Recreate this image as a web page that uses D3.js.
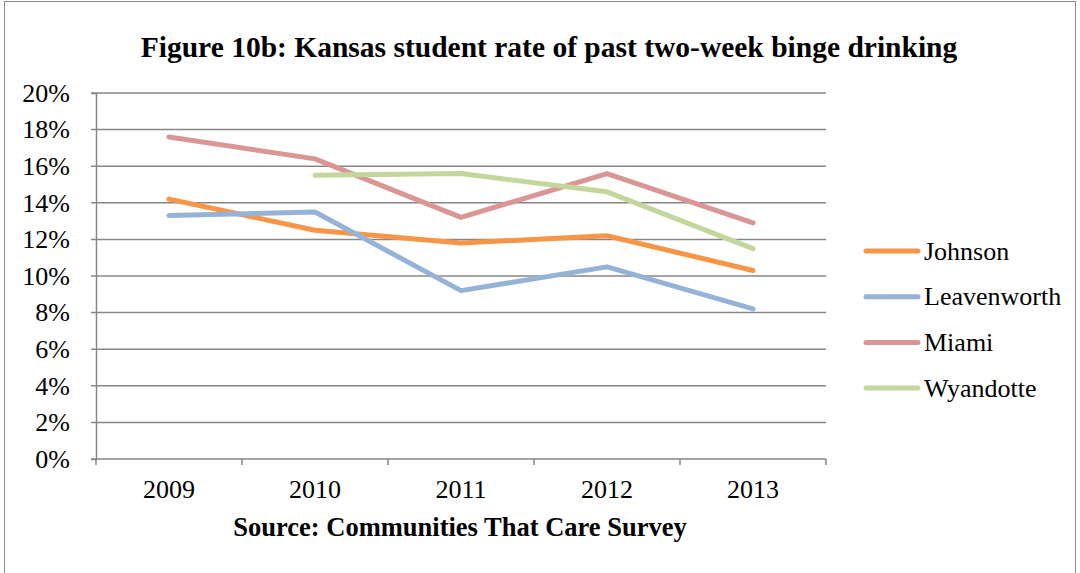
<!DOCTYPE html>
<html><head><meta charset="utf-8">
<script src="https://cdn.jsdelivr.net/npm/d3@7"></script>
<style>body{margin:0;background:#fff}svg{display:block}svg text{font-family:"Liberation Serif","Times New Roman",serif !important;fill:#000}</style>
</head><body><svg id="c" width="1080" height="573"></svg>
<script>
const title = "Figure 10b: Kansas student rate of past two-week binge drinking";
const xTitle = "Source: Communities That Care Survey";
const years = ["2009","2010","2011","2012","2013"];
const yTicks = [0,0.02,0.04,0.06,0.08,0.10,0.12,0.14,0.16,0.18,0.20];
const seriesNames = ["Johnson","Leavenworth","Miami","Wyandotte"];
const johnson = [0.142,0.125,0.118,0.122,0.103];
const leavenworth = [0.133,0.135,0.092,0.105,0.082];
const miami = [0.176,0.164,0.132,0.156,0.129];
const wyandotte = [null,0.155,0.156,0.146,0.115];
const colors = ["#F79646","#95B3D7","#D99694","#C3D69B"];

const svg = d3.select("#c");
svg.append("rect").attr("x",4.5).attr("y",1.5).attr("width",1071).attr("height",580).attr("fill","none").attr("stroke","#8c8c8c").attr("stroke-width",1);

const L=96,R=826,T=93,B=459;
const x = d3.scaleBand().domain(years).range([L,R]);
const y = d3.scaleLinear().domain([0,0.2]).range([B,T]);

svg.append("text").attr("x",549).attr("y",57).attr("text-anchor","middle").attr("font-size",29.5).attr("font-weight","bold").text(title);

// gridlines
svg.append("g").selectAll("line").data(yTicks).join("line")
  .attr("x1",L-5).attr("x2",R).attr("y1",d=>y(d)).attr("y2",d=>y(d))
  .attr("stroke","#868686").attr("stroke-width",1.5);

const ya = svg.append("g").attr("transform",`translate(${L},0)`)
  .call(d3.axisLeft(y).tickValues(yTicks).tickFormat(d3.format(".0%")).tickSize(5).tickPadding(21));
ya.select(".domain").attr("stroke","#868686").attr("stroke-width",1.5);
ya.selectAll(".tick line").remove();
ya.selectAll("text").attr("font-size",26);

const xa = svg.append("g").attr("transform",`translate(0,${B})`)
  .call(d3.axisBottom(x).tickSize(0).tickPadding(21));
xa.select(".domain").remove();
xa.selectAll("text").attr("font-size",26);
const bounds = years.map(d=>x(d)).concat([R]);
svg.append("g").selectAll("line").data(bounds).join("line")
  .attr("x1",d=>d).attr("x2",d=>d).attr("y1",B).attr("y2",B+6)
  .attr("stroke","#868686").attr("stroke-width",1.5);

svg.append("text").attr("x",460).attr("y",536).attr("text-anchor","middle").attr("font-size",26.5).attr("font-weight","bold").text(xTitle);

const data = [johnson,leavenworth,miami,wyandotte];
const line = d3.line().defined(d=>d!=null).x((d,i)=>x(years[i])+x.bandwidth()/2).y(d=>y(d));
svg.append("g").selectAll("path").data(data).join("path")
  .attr("d",line).attr("fill","none").attr("stroke",(d,i)=>colors[i])
  .attr("stroke-width",5).attr("stroke-linecap","round").attr("stroke-linejoin","round");

const lg = svg.append("g").selectAll("g").data(seriesNames).join("g")
  .attr("transform",(d,i)=>`translate(866,${251+i*45.7})`);
lg.append("line").attr("x1",0).attr("x2",52).attr("stroke",(d,i)=>colors[i]).attr("stroke-width",5).attr("stroke-linecap","round");
lg.append("text").attr("x",58).attr("y",8.5).attr("font-size",26).text(d=>d);
</script></body></html>
